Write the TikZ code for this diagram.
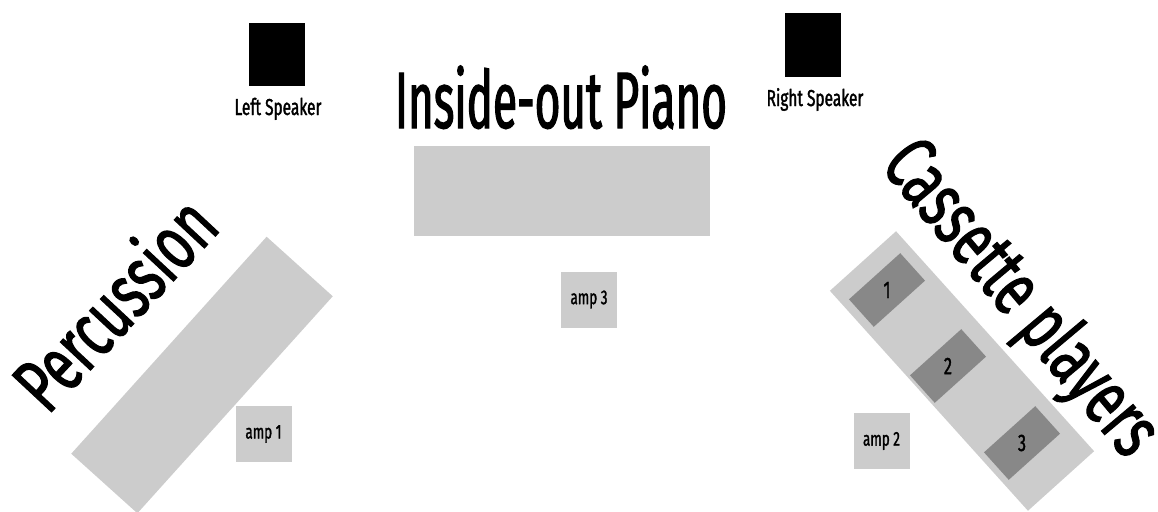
\documentclass[tikz,border=0pt]{standalone}
\usepackage{fontspec}
\newfontfamily\titlefont[FakeStretch=0.55, FakeBold=1.5]{Fira Sans}
\newfontfamily\areafont[FakeStretch=0.67, FakeBold=1.5]{Fira Sans}
\usetikzlibrary{positioning}
\definecolor{stagegray}{HTML}{CCCCCC}
\definecolor{deckgray}{HTML}{888888}

\begin{document}
\begin{tikzpicture}[x=1pt, y=-1pt,
    stage/.style={fill=stagegray, inner sep=0pt},
    deck/.style={fill=deckgray, inner sep=0pt, minimum width=37pt, minimum height=69pt, rotate=-48},
    amp/.style={fill=stagegray, inner sep=0pt, minimum width=56pt, minimum height=56pt,
                font=\areafont\fontsize{20}{20}\selectfont},
    decknum/.style={inner sep=0pt, font=\areafont\fontsize{24}{24}\selectfont},
    speaker/.style={fill=black, inner sep=0pt, minimum width=56pt, minimum height=63pt},
    bigname/.style={font=\titlefont\fontsize{80}{80}\selectfont, inner sep=0pt},
    areaname/.style={font=\areafont\fontsize{78}{78}\selectfont, inner sep=0pt},
    smallname/.style={font=\areafont\fontsize{23}{23}\selectfont, inner sep=0pt}]
  \useasboundingbox (0,0) rectangle (1158,511);

  % speakers
  \node[speaker] (lspk) at (277,54.5) {};
  \node[speaker] (rspk) at (812.5,45) {};
  \node[smallname, anchor=base] (lspklbl) at (278,115) {Left Speaker};
  \node[smallname, anchor=base] (rspklbl) at (815,106) {Right Speaker};

  % piano
  \node[bigname, anchor=base] (piano) at (561,128) {Inside-out Piano};
  \node[stage, minimum width=296pt, minimum height=90pt] (pianobox) at (562,191) {};
  \node[amp] (amp3) at (589,299.5) {amp 3};

  % percussion
  \node[stage, minimum width=292pt, minimum height=89pt, rotate=48] (perc) at (202,375) {};
  \node[areaname, rotate=47] (perclbl) at (113,302) {Percussion};
  \node[amp] (amp1) at (263.5,434) {amp 1};

  % cassettes
  \node[stage, minimum width=296pt, minimum height=89pt, rotate=-48] (tapes) at (962,371) {};
  \node[deck] (deck1) at (887,290) {};
  \node[deck] (deck2) at (948,366) {};
  \node[deck] (deck3) at (1022,443) {};
  \node[decknum] (num1) at (deck1) {1};
  \node[decknum] (num2) at (deck2) {2};
  \node[decknum] (num3) at (deck3) {3};
  \node[areaname, rotate=-50] (tapeslbl) at (1019,300) {Cassette players};
  \node[amp] (amp2) at (881.5,441) {amp 2};
\end{tikzpicture}
\end{document}
